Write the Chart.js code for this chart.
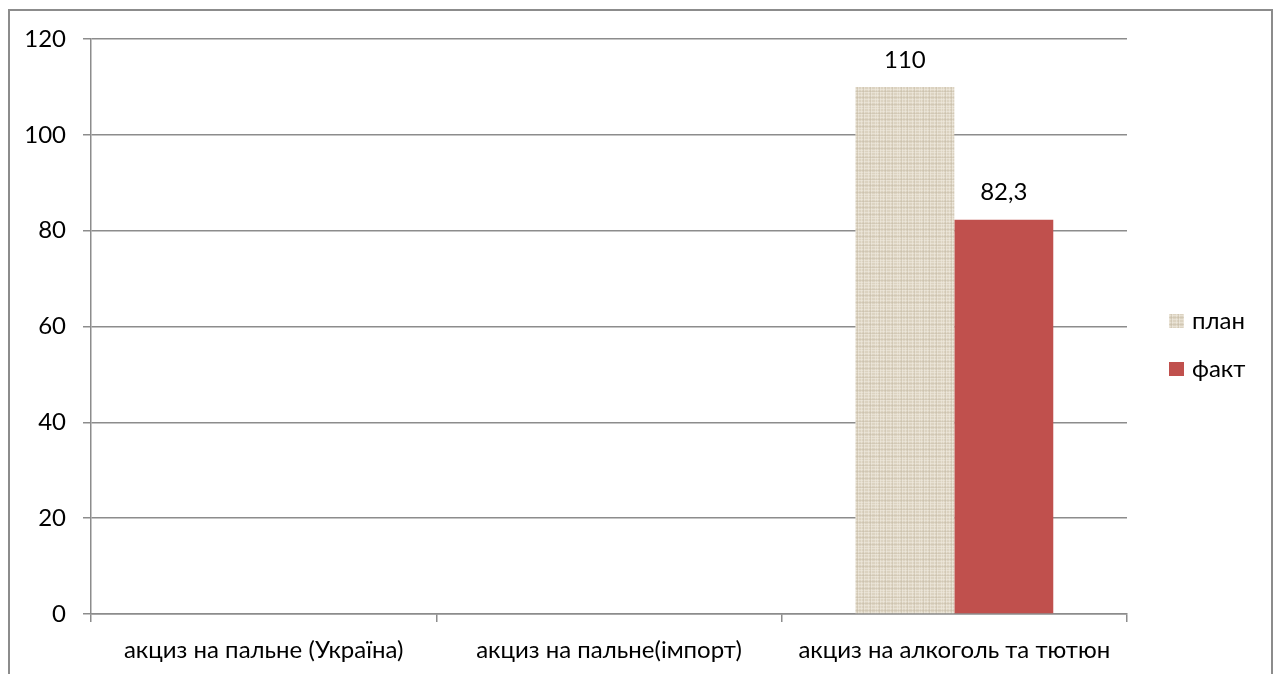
<!DOCTYPE html>
<html><head><meta charset="utf-8">
<script src="https://cdn.jsdelivr.net/npm/chart.js@4"></script>
<style>
html,body{margin:0;padding:0;background:#fff;overflow:hidden;width:1274px;height:674px}
#frame{position:absolute;left:8px;top:9px;width:1261px;height:720px;border:2px solid #8c8c8c;}
#wrap{position:absolute;left:0;top:0;width:1274px;height:674px}
</style></head>
<body>
<div id="frame"></div>
<div id="wrap"><canvas id="c" width="1274" height="674"></canvas></div>
<script>
const categories = ["акциз на пальне (Україна)", "акциз на пальне(імпорт)", "акциз на алкоголь та тютюн"];
const seriesNames = ["план", "факт"];
const planValues = [null, null, 110];
const factValues = [null, null, 82.3];
const yTicks = [0, 20, 40, 60, 80, 100, 120];

const FONT = "Lato, 'Open Sans', sans-serif";
const FS = 24;

function burlapPattern() {
  const W = 22;
  const c = document.createElement('canvas');
  c.width = W; c.height = W;
  const g = c.getContext('2d');
  g.fillStyle = '#DCD3C1';
  g.fillRect(0, 0, W, W);
  const lightRows = [1, 4, 7, 11, 14, 18, 20];
  const darkRows = [3, 9, 16];
  const lightCols = [0, 3, 6, 10, 13, 17, 19];
  const darkCols = [5, 12, 21];
  g.fillStyle = 'rgba(240,235,224,0.55)';
  lightRows.forEach(r => g.fillRect(0, r, W, 1));
  lightCols.forEach(k => g.fillRect(k, 0, 1, W));
  g.fillStyle = 'rgba(196,185,163,0.4)';
  darkRows.forEach(r => g.fillRect(0, r, W, 1));
  darkCols.forEach(k => g.fillRect(k, 0, 1, W));
  return c;
}

const ctx = document.getElementById('c').getContext('2d');
const planFill = ctx.createPattern(burlapPattern(), 'repeat');

const dataLabels = {
  id: 'dataLabels',
  afterDatasetsDraw(chart) {
    const c = chart.ctx;
    c.save();
    c.font = FS + 'px ' + FONT;
    c.fillStyle = '#000';
    c.textAlign = 'center';
    c.textBaseline = 'middle';
    chart.data.datasets.forEach((ds, i) => {
      chart.getDatasetMeta(i).data.forEach((el, j) => {
        const v = ds.data[j];
        if (v === null || v === undefined) return;
        c.fillText(String(v).replace('.', ','), el.x, el.y - 27);
      });
    });
    c.restore();
  }
};

const sideLegend = {
  id: 'sideLegend',
  afterDraw(chart) {
    const c = chart.ctx;
    c.save();
    c.font = FS + 'px ' + FONT;
    c.textBaseline = 'middle';
    c.textAlign = 'left';
    chart.data.datasets.forEach((ds, i) => {
      const cy = 321 + i * 48;
      c.fillStyle = ds.backgroundColor;
      c.fillRect(1169, cy - 7, 15, 14);
      c.fillStyle = '#000';
      c.fillText(ds.label, 1192, cy);
    });
    c.restore();
  }
};

new Chart(ctx, {
  type: 'bar',
  data: {
    labels: categories,
    datasets: [
      { label: seriesNames[0], data: planValues, backgroundColor: planFill, borderWidth: 0 },
      { label: seriesNames[1], data: factValues, backgroundColor: '#C0504D', borderWidth: 0 }
    ]
  },
  options: {
    responsive: false,
    devicePixelRatio: 1,
    animation: false,
    categoryPercentage: 0.573,
    barPercentage: 1,
    layout: { padding: { left: 0, top: 39, right: 147, bottom: 0 } },
    plugins: { legend: { display: false }, tooltip: { enabled: false } },
    scales: {
      x: {
        offset: true,
        grid: { display: true, drawOnChartArea: false, drawTicks: true, tickLength: 8, color: '#8c8c8c', lineWidth: 1.5, offset: true },
        border: { display: true, color: '#8c8c8c', width: 1.5 },
        ticks: { color: '#000', font: { family: FONT, size: FS }, padding: 14, maxRotation: 0, autoSkip: false },
        afterFit(s) { s.height = 60; }
      },
      y: {
        min: 0, max: 120,
        afterBuildTicks(s) { s.ticks = yTicks.map(v => ({ value: v })); },
        grid: { color: '#8c8c8c', lineWidth: 1.5, tickLength: 8, drawTicks: true },
        border: { display: true, color: '#8c8c8c', width: 1.5 },
        ticks: { color: '#000', font: { family: FONT, size: FS }, padding: 17 },
        afterFit(s) { s.width = 91; }
      }
    }
  },
  plugins: [dataLabels, sideLegend]
});
</script>
</body></html>
